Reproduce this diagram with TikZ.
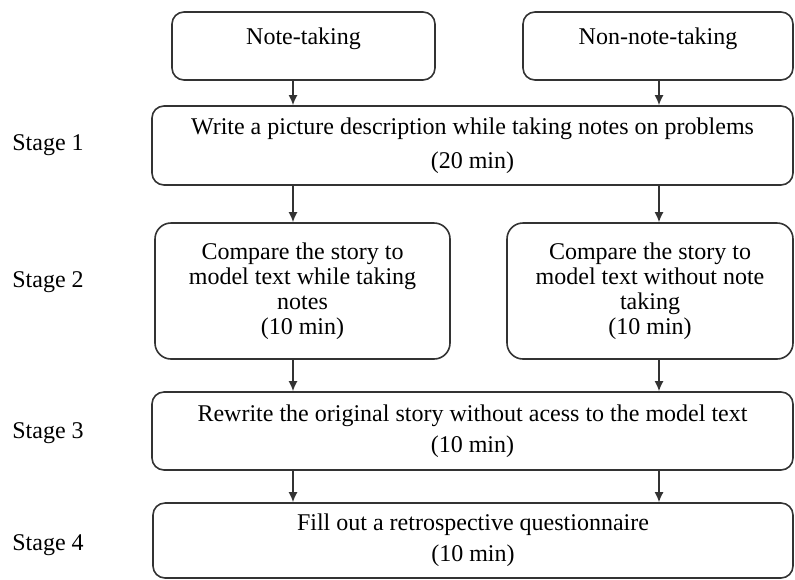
\documentclass[tikz,border=0pt]{standalone}
\usepackage{fontspec}
\setmainfont{Liberation Serif}
\usetikzlibrary{positioning}
\usetikzlibrary{arrows.meta}

\begin{document}
\begin{tikzpicture}
		[x=0.5pt, y=-0.5pt,
		box/.style={rectangle, rounded corners=6pt, draw=black!80, line width=0.8pt, align=center, inner sep=0pt, font=\fontsize{12}{12.5}\selectfont},
		group/.style={box, text depth=10pt, minimum height=34pt},
		stagelabel/.style={anchor=west, inner sep=0pt, font=\fontsize{12}{15}\selectfont},
		arr/.style={-{Latex[length=5pt,width=4.5pt]}, draw=black!80, line width=0.8pt}]
		\useasboundingbox (0,0) rectangle (795,579);
		\coordinate (cl) at (293,0);
		\coordinate (cr) at (659,0);

		\node[group, minimum width=131.5pt] (note) at (303.5,46) {Note-taking};
		\node[group, minimum width=135pt] (nonnote) at (658,46) {Non-note-taking};

		\node[box, minimum width=320.5pt, minimum height=39.5pt] (s1) at (472.5,145.5) {Write a picture description while taking notes on problems\\[4.5pt](20 min)};
		\node[box, rounded corners=8pt, minimum width=147.5pt, minimum height=68pt] (s2l) at (302.5,291) {Compare the story to\\model text while taking\\notes\\(10 min)};
		\node[box, rounded corners=8pt, minimum width=143pt, minimum height=68pt] (s2r) at (650,291) {Compare the story to\\model text without note\\taking\\(10 min)};
		\node[box, minimum width=320.5pt, minimum height=39pt] (s3) at (472.5,431) {Rewrite the original story without acess to the model text\\[3pt](10 min)};
		\node[box, minimum width=320pt, minimum height=37.5pt] (s4) at (473,540.5) {Fill out a retrospective questionnaire\\[3pt](10 min)};

		\node[stagelabel] (l1) at (12,145) {Stage 1};
		\node[stagelabel] (l2) at (12,282) {Stage 2};
		\node[stagelabel] (l3) at (12,433) {Stage 3};
		\node[stagelabel] (l4) at (12,545) {Stage 4};

		\draw[arr] (note.south -| cl) -- (s1.north -| cl);
		\draw[arr] (nonnote.south -| cr) -- (s1.north -| cr);
		\draw[arr] (s1.south -| cl) -- (s2l.north -| cl);
		\draw[arr] (s1.south -| cr) -- (s2r.north -| cr);
		\draw[arr] (s2l.south -| cl) -- (s3.north -| cl);
		\draw[arr] (s2r.south -| cr) -- (s3.north -| cr);
		\draw[arr] (s3.south -| cl) -- (s4.north -| cl);
		\draw[arr] (s3.south -| cr) -- (s4.north -| cr);
	\end{tikzpicture}
\end{document}
